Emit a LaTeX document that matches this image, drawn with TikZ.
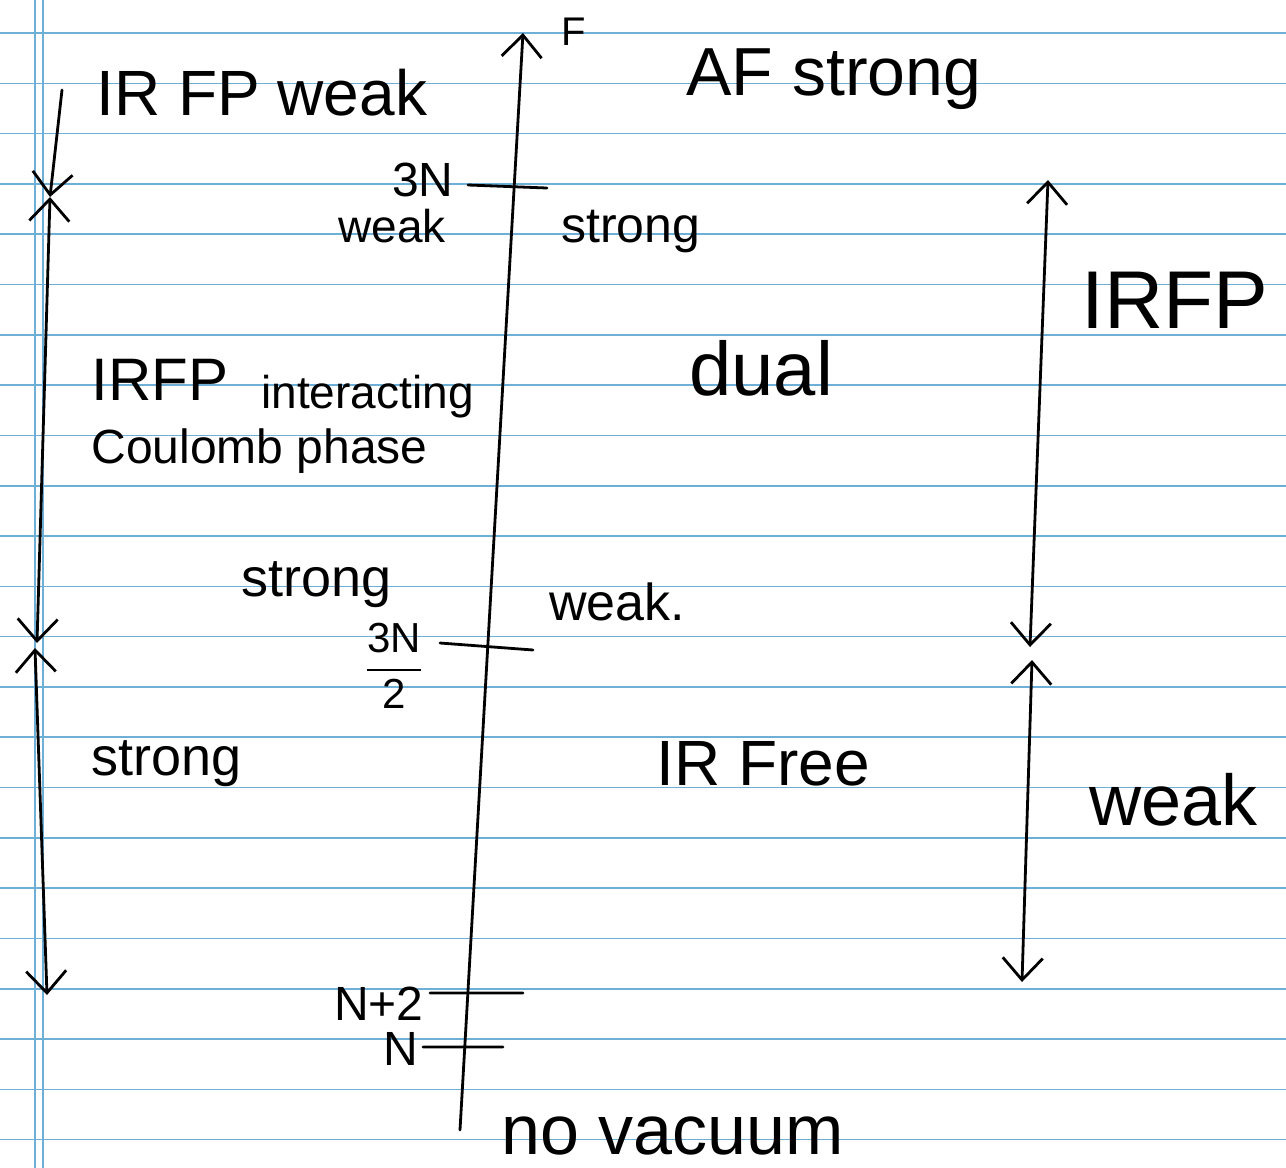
\documentclass[tikz,border=0pt]{standalone}
\usepackage{fontspec}
\setmainfont{Liberation Sans}
\usepackage{amsmath}
\usetikzlibrary{arrows.meta}
\definecolor{ruled}{RGB}{110,175,215}
\newcommand{\handsize}[1]{\fontsize{#1}{#1}\selectfont}

\begin{document}
\begin{tikzpicture}[x=0.5pt, y=-0.5pt, line width=1.4pt, line cap=round,
	>={Straight Barb[length=11pt, width=20pt]},
	lbl/.style={inner sep=0pt, anchor=base west},
	lblr/.style={inner sep=0pt, anchor=base east}]
	\useasboundingbox (0,0) rectangle (1286,1168);
	% ruled paper
	\foreach \k in {0,...,22}
		\draw[ruled, line width=0.8pt] (0,33+50.3*\k) -- (1286,33+50.3*\k);
	\draw[ruled, line width=0.8pt] (35,0) -- (35,1168) (43,0) -- (43,1168);

	% main axis
	\coordinate (axbot) at (460,1130);
	\coordinate (axtop) at (523,33);
	\draw[->] (axbot) -- (axtop);
	\node[lbl, font=\handsize{20}] (F) at (560,45) {F};

	% ticks on the axis
	\coordinate (t3Nl) at (468,185);  \coordinate (t3Nr) at (547,188);
	\coordinate (thfl) at (440,643);  \coordinate (thfr) at (533,650);
	\coordinate (tN2l) at (430,993);  \coordinate (tN2r) at (523,993);
	\coordinate (tNl)  at (423,1047); \coordinate (tNr)  at (503,1047);
	\draw (t3Nl) -- (t3Nr) (thfl) -- (thfr) (tN2l) -- (tN2r) (tNl) -- (tNr);

	\node[lblr, font=\handsize{24}] (n3N) at (455,196) {3N};
	\node[inner sep=0pt, font=\handsize{21}] (nhalf) at (394,666) {$\dfrac{\text{3N}}{\text{2}}$};
	\node[lblr, font=\handsize{24}] (nN2) at (425,1020) {N+2};
	\node[lblr, font=\handsize{24}] (nN) at (420,1065) {N};
	\node[lbl, font=\handsize{35}] (novac) at (500,1154) {no vacuum};

	% labels round the axis
	\node[lbl, font=\handsize{34}] (afs) at (685,95) {AF strong};
	\node[lbl, font=\handsize{23}] (wk3N) at (337,242) {weak};
	\node[lbl, font=\handsize{25}] (st3N) at (560,242) {strong};
	\node[lbl, font=\handsize{38}] (dual) at (688,395) {dual};
	\node[lbl, font=\handsize{27}] (sthf) at (240,596) {strong};
	\node[lbl, font=\handsize{26}] (wkhf) at (548,620) {weak.};
	\node[lbl, font=\handsize{32}] (irfree) at (655,785) {IR Free};

	% left column
	\node[lbl, font=\handsize{32}] (irw) at (95,115) {IR FP weak};
	\node[lbl, font=\handsize{30}] (irfpl) at (90,400) {IRFP};
	\node[lbl, font=\handsize{23}] (inter) at (260,408) {interacting};
	\node[lbl, font=\handsize{24}] (coul) at (90,463) {Coulomb phase};
	\node[lbl, font=\handsize{27}] (stl) at (90,775) {strong};

	\coordinate (l0) at (62,90);
	\coordinate (l1) at (50,197);
	\coordinate (l2) at (37,643);
	\coordinate (l3) at (35,648);
	\coordinate (l4) at (47,995);
	\path (l0) edge[->] (l1)
	(l1) edge[<->] (l2)
	(l3) edge[<->] (l4);

	% right column
	\node[lbl, font=\handsize{41}] (irfpr) at (1080,328) {IRFP};
	\node[lbl, font=\handsize{36}] (wkr) at (1088,825) {weak};

	\coordinate (r1) at (1048,180);
	\coordinate (r2) at (1030,647);
	\coordinate (r3) at (1032,660);
	\coordinate (r4) at (1022,982);
	\path (r2) edge[<->] (r1)
	(r3) edge[<->] (r4);
\end{tikzpicture}
\end{document}
